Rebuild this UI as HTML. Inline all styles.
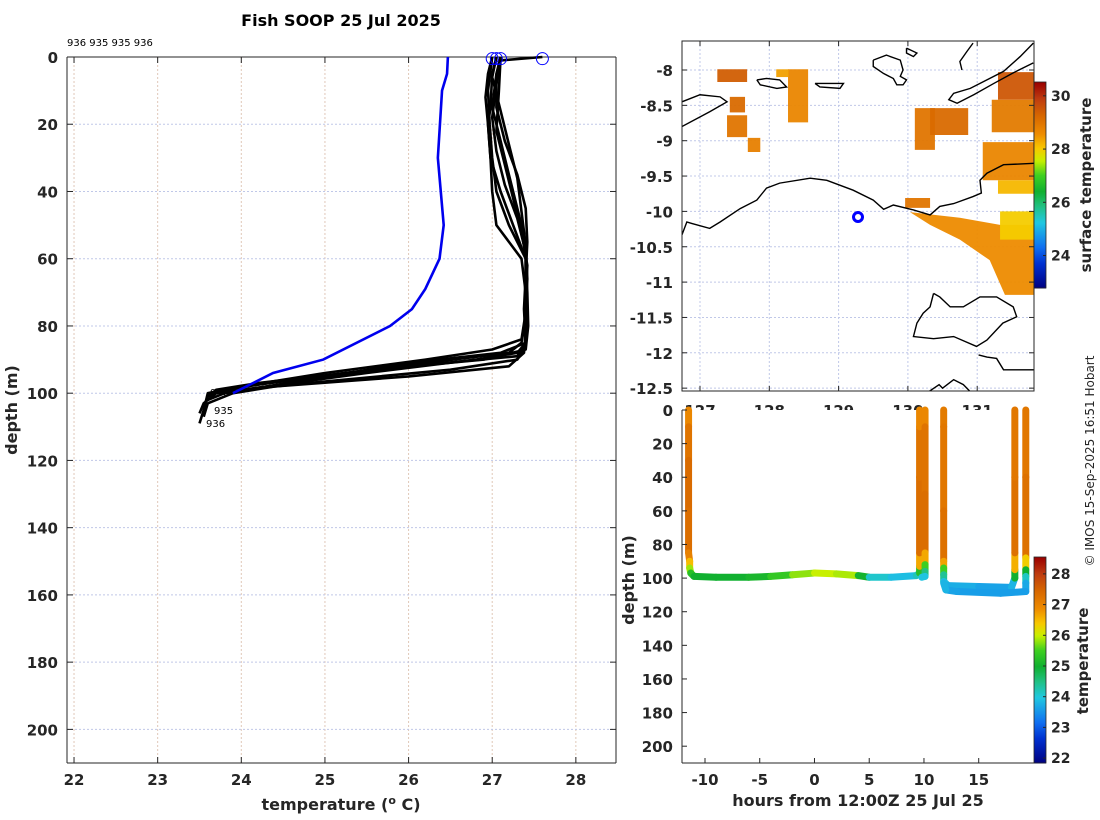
<!DOCTYPE html>
<html><head><meta charset="utf-8"><style>
html,body{margin:0;padding:0;background:#fff;}
svg{display:block;font-family:"DejaVu Sans","Liberation Sans",sans-serif;}
.tk{font-size:15px;font-weight:bold;fill:#262626;}
.lb{font-size:16px;font-weight:bold;fill:#262626;}
</style></head><body>
<svg id="fig" width="1100" height="820" viewBox="0 0 1100 820" xmlns="http://www.w3.org/2000/svg">
<text x="341" y="26" text-anchor="middle" style="font-size:16px;font-weight:bold">Fish SOOP 25 Jul 2025</text>
<text x="67" y="46" style="font-size:10px">936 935 935 936</text>
<g id="left"></g>
<g id="map"></g>
<g id="sect"></g>
<text transform="translate(1094,461) rotate(-90)" text-anchor="middle" style="font-size:12px;fill:#262626">© IMOS 15-Sep-2025 16:51 Hobart</text>
</svg>
<script>
// ---------- data: left profile plot ----------
const profDepths = [
 [0,1,3,8,15,25,35,45,55,65,75,85,88,91,96,99,101,104],
 [0,5,15,20,30,40,50,60,70,80,85,88,90,94,98,100,103,106],
 [0,5,15,25,35,45,55,65,75,85,89,92,95,98,100,105,109],
 [0,5,12,20,30,40,50,60,70,80,87,90,93,97,99,101],
 [0,8,18,28,38,48,58,68,78,85,88,91,96,100,102],
 [0,6,16,26,36,46,56,66,76,84,87,90,94,98,100],
 [0,10,20,30,40,50,60,70,80,86,90,93,97,99,103,107],
 [0,10,22,32,42,52,62,72,82,88,92,95,98,100]
];
const profTemps = [
 [27.6,27.1,27.08,27.05,27.05,27.15,27.3,27.4,27.42,27.4,27.42,27.35,27.2,26.2,24.6,23.8,23.6,23.55],
 [27.05,27.0,26.98,26.95,26.98,27.0,27.05,27.35,27.4,27.42,27.4,27.3,26.8,25.5,24.3,23.7,23.55,23.5],
 [27.1,27.05,27.0,27.1,27.2,27.3,27.4,27.4,27.38,27.4,27.3,26.0,25.0,24.0,23.6,23.55,23.5],
 [27.0,26.95,26.92,26.95,26.98,27.1,27.25,27.4,27.42,27.43,27.4,26.9,25.6,24.2,23.7,23.6],
 [27.1,27.05,27.0,27.05,27.15,27.3,27.4,27.4,27.42,27.4,27.1,26.0,24.8,23.8,23.6],
 [27.05,27.0,27.1,27.2,27.3,27.35,27.4,27.42,27.4,27.35,27.0,26.2,25.0,24.0,23.7],
 [27.0,26.95,26.97,27.0,27.05,27.2,27.4,27.4,27.42,27.4,27.3,26.5,24.8,24.0,23.6,23.55],
 [27.1,27.08,27.05,27.15,27.25,27.35,27.42,27.4,27.4,27.38,27.2,26.0,24.4,23.9]
];
const climDepths = [0,5,10,30,50,60,69,75,80,90,94,100];
const climTemps = [26.47,26.46,26.40,26.35,26.42,26.37,26.2,26.04,25.78,24.98,24.38,23.9];
const surfTemps = [27.0,27.05,27.1,27.6];
const tempTicks = [22,23,24,25,26,27,28];
const depthTicks = [0,20,40,60,80,100,120,140,160,180,200];
// ---------- data: map ----------
const lonTicks = [127,128,129,130,131];
const latTicks = [-8,-8.5,-9,-9.5,-10,-10.5,-11,-11.5,-12,-12.5];
const shipLon = 129.28, shipLat = -10.08;
const coastLon = [
 [126.74,126.81,126.88,127.14,127.29,127.58,127.82,127.96,128.15,128.59,128.83,129.21,129.50,129.65,129.79,130.08,130.32,130.46,130.66,130.94,131.06,131.04,131.14,131.38,131.82],
 [130.37,130.46,130.61,130.80,131.04,131.28,131.52,131.57,131.37,131.14,130.99,130.66,130.37,130.08,130.13,130.22,130.32,130.37],
 [131.02,131.14,131.28,131.38,131.82],
 [131.81,131.62,131.38,131.14,130.90,130.66,130.59,130.71,130.95,131.24,131.52,131.81],
 [130.78,130.75,130.85,130.94],
 [129.50,129.69,129.89,129.93,129.89,129.98,129.93,129.84,129.79,129.65,129.50,129.50],
 [126.74,127.0,127.29,127.39,127.14,126.74],
 [127.82,127.96,128.15,128.25,128.11,127.87,127.82],
 [128.66,129.07,129.02,128.73,128.66],
 [129.98,130.13,130.08,129.98,129.98],
 [130.30,130.45,130.5,130.66,130.8,130.9]
];
const coastLat = [
 [-10.33,-10.15,-10.17,-10.24,-10.15,-9.96,-9.84,-9.67,-9.60,-9.53,-9.56,-9.70,-9.84,-9.97,-9.91,-9.98,-10.05,-9.93,-9.89,-9.79,-9.74,-9.56,-9.46,-9.34,-9.32],
 [-11.16,-11.21,-11.35,-11.35,-11.21,-11.21,-11.35,-11.49,-11.58,-11.82,-11.91,-11.77,-11.80,-11.77,-11.58,-11.44,-11.35,-11.16],
 [-12.03,-12.06,-12.08,-12.24,-12.24],
 [-7.62,-7.81,-8.02,-8.14,-8.26,-8.33,-8.42,-8.47,-8.35,-8.19,-8.04,-7.90],
 [-8.0,-7.88,-7.74,-7.62],
 [-7.86,-7.79,-7.86,-8.0,-8.09,-8.14,-8.21,-8.21,-8.12,-8.05,-7.95,-7.86],
 [-8.45,-8.35,-8.38,-8.45,-8.59,-8.80],
 [-8.14,-8.12,-8.14,-8.24,-8.26,-8.21,-8.14],
 [-8.19,-8.19,-8.26,-8.24,-8.19],
 [-7.69,-7.76,-7.81,-7.76,-7.69],
 [-12.55,-12.45,-12.5,-12.38,-12.45,-12.55]
];
const sstLon = [
 [127.25,127.68,127.68,127.25],[127.43,127.65,127.65,127.43],[127.39,127.68,127.68,127.39],[127.69,127.87,127.87,127.69],
 [128.27,128.56,128.56,128.27],[128.1,128.28,128.28,128.1],[130.1,130.39,130.39,130.1],[130.32,130.87,130.87,130.32],
 [131.3,131.82,131.82,131.3],[131.21,131.82,131.82,131.21],[131.08,131.82,131.82,131.08],[131.3,131.82,131.82,131.3],
 [129.96,130.32,130.32,129.96],
 [130.03,130.75,131.33,131.82,131.82,131.40,131.18,130.75,130.32],
 [131.33,131.82,131.82,131.33]
];
const sstLat = [
 [-7.99,-7.99,-8.17,-8.17],[-8.38,-8.38,-8.6,-8.6],[-8.64,-8.64,-8.95,-8.95],[-8.96,-8.96,-9.16,-9.16],
 [-7.99,-7.99,-8.74,-8.74],[-7.99,-7.99,-8.1,-8.1],[-8.54,-8.54,-9.13,-9.13],[-8.54,-8.54,-8.92,-8.92],
 [-8.03,-8.03,-8.42,-8.42],[-8.42,-8.42,-8.88,-8.88],[-9.02,-9.02,-9.56,-9.56],[-9.56,-9.56,-9.75,-9.75],
 [-9.81,-9.81,-9.95,-9.95],
 [-10.01,-10.09,-10.19,-10.19,-11.18,-11.18,-10.69,-10.40,-10.19],
 [-10.0,-10.0,-10.4,-10.4]
];
const sstVals = [29.4,29.2,29.0,28.8,28.7,28.4,29.0,29.2,29.5,28.9,28.7,28.2,29.0,28.6,28.0];
const sstCbTicks = [24,26,28,30];
// ---------- data: section ----------
const trkHours = [-11.5,-11.5,-11.5,-11.5,-11.5,-11.4,-11.4,-11.3,-11.0,-9,-6,-4,-2,0,2,4,5,7,9.3,9.6,9.6,9.6,9.6,9.6,9.6,null,
 10.1,10.1,10.1,10.1,10.1,10.1,10.1,9.8,null,
 11.8,11.8,11.8,11.8,11.8,11.8,11.8,12.2,15,18,18.3,18.3,18.3,18.3,18.3,null,
 19.3,19.3,19.3,19.3,19.3,19.3,19.3,17,13,12,11.8];
const trkDepth = [0,10,30,60,85,90,94,97,99,99.5,99.5,99,98,97,97.5,98.5,99.5,99.5,98.5,97,93,85,40,10,0,null,
 0,10,50,85,92,96,99,99.5,null,
 0,10,60,90,94,98,102,104.5,105,105.5,100,95,85,40,0,null,
 0,40,88,95,99,103,108,109,108,107,103];
const trkTemp = [26.8,27.1,27.4,27.4,27.3,26.8,26.2,25.5,25.0,25.0,25.0,25.2,25.6,26.0,26.0,25.8,24.3,23.9,23.9,24.5,26.0,27.3,27.4,27.1,26.8,null,
 26.8,27.1,27.4,27.3,26.0,25.0,24.0,23.9,null,
 27.3,27.0,27.4,27.2,26.2,24.8,24.0,23.8,23.7,23.6,24.0,26.0,27.2,27.4,27.0,null,
 27.0,27.4,27.2,25.5,24.5,23.8,23.6,23.6,23.6,23.7,23.9];
const hourTicks = [-10,-5,0,5,10,15];
const cbTicks = [22,23,24,25,26,27,28];

// ---------- helpers ----------
const NS='http://www.w3.org/2000/svg';
function mk(tag, attrs, parent){const e=document.createElementNS(NS,tag);for(const k in attrs)e.setAttribute(k,attrs[k]);parent.appendChild(e);return e;}
const stops=[[0,[0,0,128]],[0.12,[0,48,208]],[0.2,[16,112,240]],[0.32,[32,200,224]],[0.4,[32,192,128]],[0.47,[16,176,48]],[0.55,[64,208,32]],[0.62,[200,240,0]],[0.68,[248,200,0]],[0.75,[238,140,0]],[0.84,[214,102,0]],[0.92,[190,60,16]],[1,[154,0,0]]];
function cmap(f){f=Math.max(0,Math.min(1,f));for(let i=1;i<stops.length;i++){if(f<=stops[i][0]){const a=stops[i-1],b=stops[i];const u=(f-a[0])/(b[0]-a[0]);const c=a[1].map((v,j)=>Math.round(v+(b[1][j]-v)*u));return `rgb(${c[0]},${c[1]},${c[2]})`;}}return 'rgb(154,0,0)';}

// ---------- left plot ----------
(function(){
 const g=document.getElementById('left');
 const L=67,R=616,T=57,B=763, tmin=21.916, tmax=28.48, dmax=210;
 const x=t=>L+(t-tmin)/(tmax-tmin)*(R-L);
 const y=d=>T+d/dmax*(B-T);
 tempTicks.forEach(t=>{
  const l=mk('line',{x1:x(t),x2:x(t),y1:T,y2:B,stroke:'#e0c8b8','stroke-width':1,'stroke-dasharray':'2,2'},g);
  
  mk('line',{x1:x(t),x2:x(t),y1:T,y2:T+6,stroke:'#262626'},g);
  mk('line',{x1:x(t),x2:x(t),y1:B,y2:B-6,stroke:'#262626'},g);
  const tx=mk('text',{x:x(t),y:B+22,'text-anchor':'middle',class:'tk'},g);tx.textContent=t;
  
 });
 depthTicks.forEach(d=>{
  const l=mk('line',{x1:L,x2:R,y1:y(d),y2:y(d),stroke:'#c0c8e8','stroke-width':1,'stroke-dasharray':'2,2'},g);
  
  mk('line',{x1:L,x2:L+6,y1:y(d),y2:y(d),stroke:'#262626'},g);
  mk('line',{x1:R,x2:R-6,y1:y(d),y2:y(d),stroke:'#262626'},g);
  const tx=mk('text',{x:L-9,y:y(d)+6,'text-anchor':'end',class:'tk'},g);tx.textContent=d;
  
 });
 mk('line',{x1:L,x2:R,y1:T,y2:T,stroke:'#262626'},g);
 mk('line',{x1:L,x2:L,y1:T,y2:B,stroke:'#262626'},g);
 mk('line',{x1:L,x2:R,y1:B,y2:B,stroke:'#262626'},g);
 mk('line',{x1:R,x2:R,y1:T,y2:B,stroke:'#262626'},g);
 profDepths.forEach((ds,i)=>{
  const pts=ds.map((d,j)=>x(profTemps[i][j]).toFixed(1)+','+y(d).toFixed(1)).join(' ');
  const p=mk('polyline',{points:pts,fill:'none',stroke:'#000','stroke-width':2.6,'stroke-linejoin':'round'},g);
  
 });
 const cp=mk('polyline',{points:climDepths.map((d,j)=>x(climTemps[j])+','+y(d)).join(' '),fill:'none',stroke:'#0000ee','stroke-width':2.6},g);
 
 surfTemps.forEach(t=>{
  const c=mk('circle',{cx:x(t),cy:y(0.5),r:6,fill:'none',stroke:'#0000ff','stroke-width':1},g);
  
 });
 [['936',210,396],['935',214,414],['936',206,427]].forEach(a=>{const t=mk('text',{x:a[1],y:a[2],style:'font-size:10px'},g);t.textContent=a[0];});
 const yl=mk('text',{transform:'translate(17,410) rotate(-90)','text-anchor':'middle',class:'lb'},g);yl.textContent='depth (m)';
 
 const xl=mk('text',{x:341,y:810,'text-anchor':'middle',class:'lb'},g);
 xl.innerHTML='temperature (<tspan dy="-6" style="font-size:11px">o</tspan><tspan dy="6"> C)</tspan>';
 
})();

// ---------- map ----------
(function(){
 const g=document.getElementById('map');
 const L=682,R=1034,T=41,B=391;
 const x=lo=>700+(lo-127)*69.3;
 const y=la=>70+(-8-la)*70.7;
 const cb0=22.78,cb1=30.52;
 const cl=mk('clipPath',{id:'mapclip'},g);mk('rect',{x:L,y:T,width:R-L,height:B-T},cl);
 const inner=mk('g',{'clip-path':'url(#mapclip)'},g);
 lonTicks.forEach(l=>{mk('line',{x1:x(l),x2:x(l),y1:T,y2:B,stroke:'#c0c8e8','stroke-dasharray':'2,2'},inner);
  mk('line',{x1:x(l),x2:x(l),y1:B,y2:B-5,stroke:'#262626'},g);mk('line',{x1:x(l),x2:x(l),y1:T,y2:T+5,stroke:'#262626'},g);
  const t=mk('text',{x:x(l),y:416,'text-anchor':'middle',class:'tk'},g);t.textContent=l;});
 latTicks.forEach(l=>{mk('line',{x1:L,x2:R,y1:y(l),y2:y(l),stroke:'#c0c8e8','stroke-dasharray':'2,2'},inner);
  mk('line',{x1:L,x2:L+5,y1:y(l),y2:y(l),stroke:'#262626'},g);mk('line',{x1:R,x2:R-5,y1:y(l),y2:y(l),stroke:'#262626'},g);
  const t=mk('text',{x:673,y:y(l)+6,'text-anchor':'end',class:'tk'},g);t.textContent=l;});
 sstLon.forEach((los,i)=>{
  const p=mk('polygon',{points:los.map((lo,j)=>x(lo)+','+y(sstLat[i][j])).join(' '),fill:cmap((sstVals[i]-cb0)/(cb1-cb0)),opacity:0.95},inner);
  
 });
 coastLon.forEach((los,i)=>{
  const p=mk('polyline',{points:los.map((lo,j)=>x(lo)+','+y(coastLat[i][j])).join(' '),fill:'none',stroke:'#000','stroke-width':1.4},inner);
  
 });
 const s=mk('circle',{cx:x(shipLon),cy:y(shipLat),r:4.5,fill:'none',stroke:'#0000ff','stroke-width':3},g);
 
 mk('rect',{x:L,y:T,width:R-L,height:B-T,fill:'none',stroke:'#262626'},g);
 const cT=82,cB=288,cx=1034,cw=12;
 const cy=v=>cB-(v-cb0)/(cb1-cb0)*(cB-cT);
 for(let i=0;i<103;i++){const v0=cb0+(cb1-cb0)*i/103,v1=cb0+(cb1-cb0)*(i+1)/103;mk('rect',{x:cx,y:cy(v1),width:cw,height:cy(v0)-cy(v1)+0.5,fill:cmap(((v0+v1)/2-cb0)/(cb1-cb0))},g);}
 mk('rect',{x:cx,y:cT,width:cw,height:cB-cT,fill:'none',stroke:'#262626','stroke-width':0.8},g);
 sstCbTicks.forEach(v=>{mk('line',{x1:cx+cw,x2:cx+cw-3,y1:cy(v),y2:cy(v),stroke:'#262626'},g);
  const t=mk('text',{x:1051,y:cy(v)+5,class:'tk',style:'font-size:14px'},g);t.textContent=v;});
 const lt=mk('text',{transform:'translate(1091,185) rotate(-90)','text-anchor':'middle',class:'lb',style:'font-size:15px'},g);lt.textContent='surface temperature';
 
})();

// ---------- section ----------
(function(){
 const g=document.getElementById('sect');
 const L=682,R=1034,T=410,B=763,h0=-12.1,h1=20.05,dmax=210;
 mk('rect',{x:L,y:T,width:R-L,height:B-T+1,fill:'#fff'},g);
 const x=h=>L+(h-h0)/(h1-h0)*(R-L);
 const y=d=>T+d/dmax*(B-T);
 const c0=21.84,c1=28.55;
 for(let i=1;i<trkHours.length;i++){
  if(trkHours[i]===null||trkHours[i-1]===null)continue;
  const ln=mk('line',{x1:x(trkHours[i-1]),y1:y(trkDepth[i-1]),x2:x(trkHours[i]),y2:y(trkDepth[i]),stroke:cmap(((trkTemp[i-1]+trkTemp[i])/2-c0)/(c1-c0)),'stroke-width':7,'stroke-linecap':'round'},g);
  
 }
 hourTicks.forEach(h=>{mk('line',{x1:x(h),x2:x(h),y1:B,y2:B-5,stroke:'#262626'},g);
  const t=mk('text',{x:x(h),y:B+22,'text-anchor':'middle',class:'tk'},g);t.textContent=h;});
 depthTicks.forEach(d=>{mk('line',{x1:L,x2:L+5,y1:y(d),y2:y(d),stroke:'#262626'},g);
  const t=mk('text',{x:673,y:y(d)+6,'text-anchor':'end',class:'tk'},g);t.textContent=d;});
 mk('line',{x1:L,x2:L,y1:T,y2:B,stroke:'#262626'},g);
 mk('line',{x1:L,x2:R,y1:B,y2:B,stroke:'#262626'},g);
 const cT=557,cB=763,cx=1034,cw=12;
 const cy=v=>cB-(v-c0)/(c1-c0)*(cB-cT);
 for(let i=0;i<103;i++){const v0=c0+(c1-c0)*i/103,v1=c0+(c1-c0)*(i+1)/103;mk('rect',{x:cx,y:cy(v1),width:cw,height:cy(v0)-cy(v1)+0.5,fill:cmap(((v0+v1)/2-c0)/(c1-c0))},g);}
 mk('rect',{x:cx,y:cT,width:cw,height:cB-cT,fill:'none',stroke:'#262626','stroke-width':0.8},g);
 cbTicks.forEach(v=>{mk('line',{x1:cx+cw,x2:cx+cw-3,y1:cy(v),y2:cy(v),stroke:'#262626'},g);
  const t=mk('text',{x:1051,y:cy(v)+5,class:'tk',style:'font-size:14px'},g);t.textContent=v;});
 const lt=mk('text',{transform:'translate(1088,661) rotate(-90)','text-anchor':'middle',class:'lb',style:'font-size:15px'},g);lt.textContent='temperature';
 
 const yl=mk('text',{transform:'translate(634,580) rotate(-90)','text-anchor':'middle',class:'lb'},g);yl.textContent='depth (m)';
 
 const xl=mk('text',{x:858,y:806,'text-anchor':'middle',class:'lb'},g);xl.textContent='hours from 12:00Z 25 Jul 25';
 
})();
</script>
</body></html>
